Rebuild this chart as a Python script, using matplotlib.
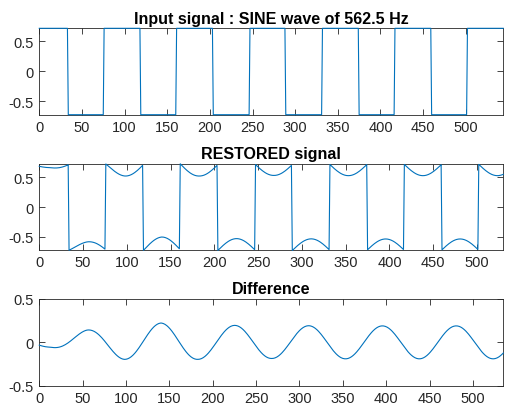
import numpy as np
import matplotlib
matplotlib.use("Agg")
import matplotlib.pyplot as plt

plt.rcParams['font.family'] = ['Liberation Sans', 'DejaVu Sans']

# Input: clipped sine, sample indices where the level flips
input_edges = [34, 76, 119, 161, 204, 247, 289, 332, 375, 417, 460, 502]
input_high = 0.718
input_low = -0.728
input_len = 545

# Difference (restored - input): signed peak of each half-cycle between level flips
diff_peaks = [-0.055, 0.142, -0.196, 0.223, -0.196, 0.196, -0.186,
              0.192, -0.190, 0.190, -0.190, 0.190, -0.190]
restored_len = 531
diff_len = 536

titles = ["Input signal : SINE wave of 562.5 Hz", "RESTORED signal", "Difference"]
x_ticks = [0, 50, 100, 150, 200, 250, 300, 350, 400, 450, 500]
y_ticks = [-0.5, 0, 0.5]

LINE = "#0072BD"
AX = "#262626"

# build input square signal from the flip positions
n = np.arange(input_len)
flips = np.searchsorted(input_edges, n, side='right')
sig_in = np.where(flips % 2 == 0, input_high, input_low)

# build the difference: sine oscillation whose zero crossings sit on the flips,
# with an envelope passing through the half-cycle peaks
half = (input_edges[-1] - input_edges[0]) / (len(input_edges) - 1)
centers = input_edges[0] - half / 2 + half * np.arange(len(diff_peaks))
env = np.interp(n, centers, np.abs(diff_peaks))
diff = env * np.sin(np.pi * (n - input_edges[0]) / half)

restored = sig_in[:restored_len] + diff[:restored_len]

fig = plt.figure(figsize=(5.05, 4.10), dpi=100)
fig.patch.set_facecolor("white")

positions = [
    [0.0778, 0.7178, 0.9188, 0.2107],
    [0.0778, 0.3885, 0.9188, 0.2090],
    [0.0778, 0.0568, 0.9188, 0.2115],
]
series = [
    (np.arange(input_len), sig_in, (0, input_len - 1), (input_low, input_high)),
    (np.arange(restored_len), restored, (0, restored_len - 1), (-0.719, 0.724)),
    (np.arange(diff_len), diff[:diff_len], (0, diff_len - 1), (-0.5, 0.5)),
]

for pos, (x, y, xl, yl), title in zip(positions, series, titles):
    ax = fig.add_axes(pos)
    ax.plot(x, y, color=LINE, linewidth=0.8, clip_on=False, zorder=3)
    ax.set_xlim(*xl)
    ax.set_ylim(*yl)
    ax.set_xticks(x_ticks)
    ax.set_yticks(y_ticks)
    ax.set_yticklabels(["-0.5", "0", "0.5"])
    ax.set_title(title, fontsize=11.5, fontweight='bold', color='black', pad=4)
    ax.tick_params(direction='in', length=4, width=0.6, colors=AX,
                   labelsize=10.5, top=True, right=True, pad=4)
    for s in ax.spines.values():
        s.set_color(AX)
        s.set_linewidth(0.6)

fig.savefig("out.png", dpi=100)
